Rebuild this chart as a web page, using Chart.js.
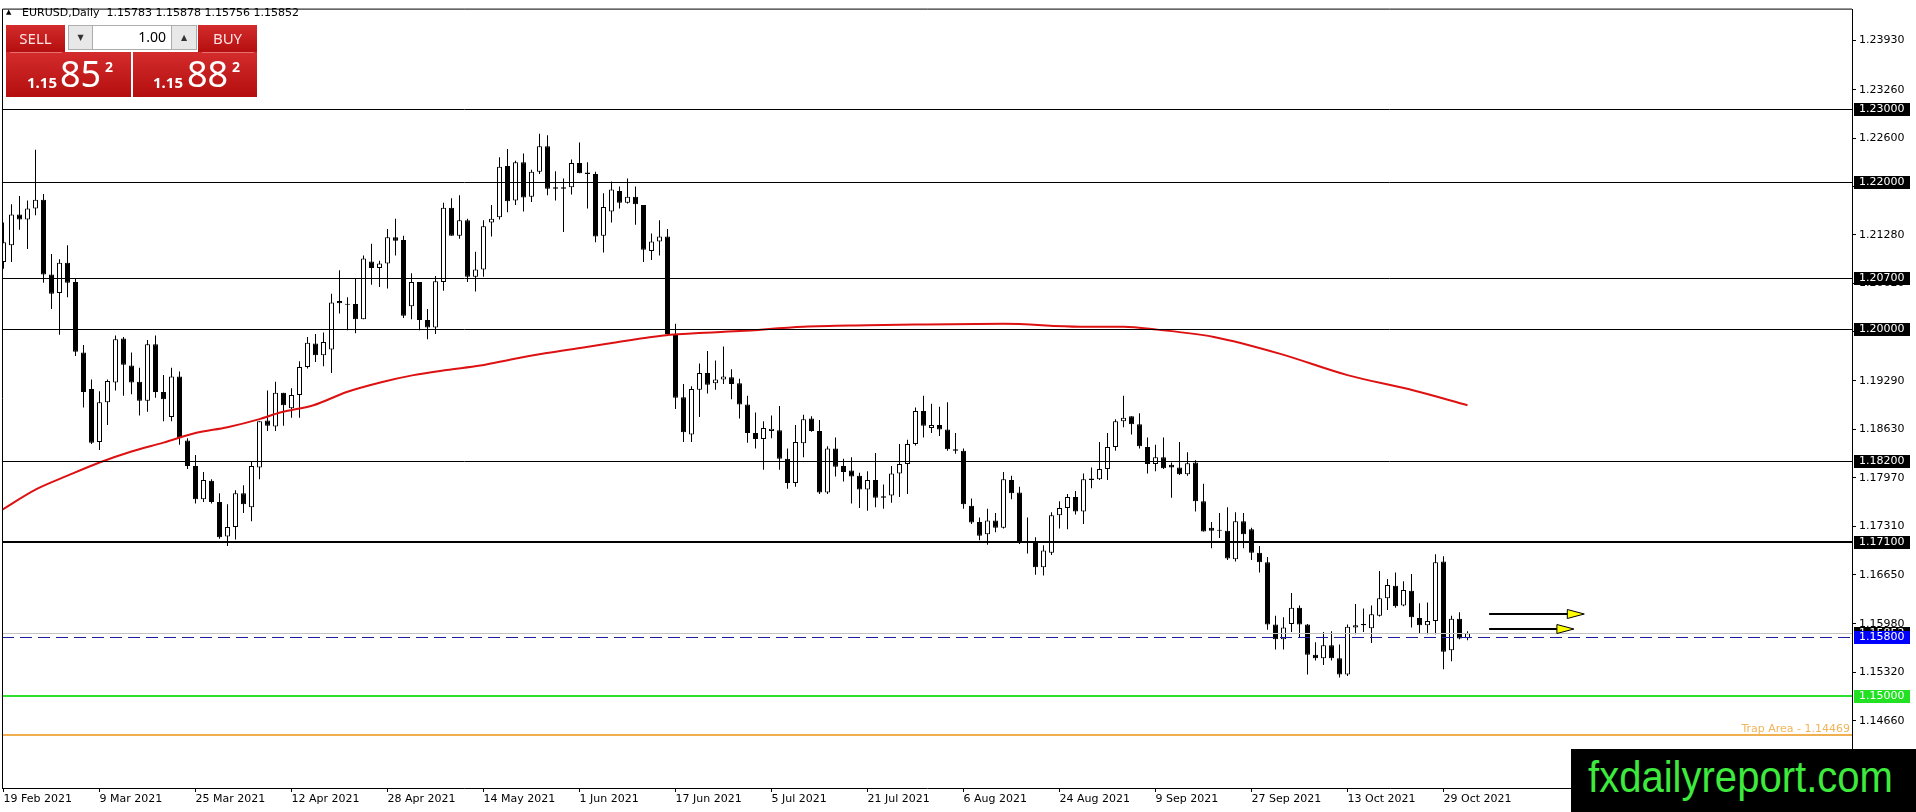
<!DOCTYPE html>
<html lang="en">
<head>
<meta charset="UTF-8">
<title>EURUSD, Daily</title>
<script src="https://cdn.jsdelivr.net/npm/chart.js"></script>
<style>
    body { margin: 0; background: #fff; overflow: hidden; }
    #wrap { position: relative; width: 1916px; height: 812px; }
    #c { position: absolute; left: 0; top: 0; }
    .ov { position: absolute; z-index: 2; }
    #hdr { left: 22px; top: 6px; font: 11px 'DejaVu Sans', sans-serif; color: #000; line-height: 14px; white-space: nowrap; }
    #tri { left: 6px; top: 8px; font: 7px 'DejaVu Sans', sans-serif; color: #000; }
    .red { background: linear-gradient(#d42c2c, #b40e0e); color: #fff; font-family: 'Noto Sans', sans-serif; }
    .btn { text-align: center; font-size: 15px; line-height: 27px; color: #fde2e2; }
    .gray { background: #e8e8e8; border: 1px solid #adadad; box-sizing: border-box; text-align: center; font: 8px 'DejaVu Sans'; line-height: 23px; color: #333; }
    #lot { background: #fff; border: 1px solid #adadad; box-sizing: border-box; text-align: right; padding-right: 5px;
           font: 14px 'Noto Sans', sans-serif; line-height: 22px; color: #000; }
    .pxs { position: absolute; line-height: 1; color: #fff; font-family: 'Noto Sans', sans-serif; }
    .small { font-size: 15px; font-weight: bold; }
    .big { font-size: 36px; }
    .sup { font-size: 14px; font-weight: bold; }
    #wm { left: 1571px; top: 749px; width: 345px; height: 63px; background: #000; overflow: hidden; }
    #wm span { position: absolute; left: 17px; top: 5px; font: 45px 'Liberation Sans', Arial, sans-serif; line-height: 1;
               color: #3dea3d; transform: scaleX(0.89); transform-origin: left top; white-space: nowrap; }
</style>
</head>
<body>
<div id="wrap">
    <canvas id="c" width="1916" height="812"></canvas>

    <div class="ov" id="tri">&#9650;</div>
    <div class="ov" id="hdr">EURUSD,Daily&nbsp; 1.15783 1.15878 1.15756 1.15852</div>

    <div class="ov red btn" style="left:6px;top:25px;width:59px;height:27px;">SELL</div>
    <div class="ov red" style="left:6px;top:52px;width:125px;height:45px;"></div>
    <div class="ov" style="left:10px;top:52px;width:52px;height:1px;background:#e47070;"></div>
    <div class="ov red btn" style="left:198px;top:25px;width:59px;height:27px;">BUY</div>
    <div class="ov red" style="left:133px;top:52px;width:124px;height:45px;"></div>
    <div class="ov" style="left:202px;top:52px;width:52px;height:1px;background:#e47070;"></div>
    <div class="ov gray" style="left:68px;top:25px;width:25px;height:25px;">&#9660;</div>
    <div class="ov" id="lot" style="left:92px;top:25px;width:80px;height:25px;">1.00</div>
    <div class="ov gray" style="left:171px;top:25px;width:26px;height:25px;">&#9650;</div>

    <div class="ov pxs small" style="left:27px;top:75px;">1.15</div>
    <div class="ov pxs big" style="left:60px;top:56px;">85</div>
    <div class="ov pxs sup" style="left:105px;top:60px;">2</div>
    <div class="ov pxs small" style="left:153px;top:75px;">1.15</div>
    <div class="ov pxs big" style="left:187px;top:56px;">88</div>
    <div class="ov pxs sup" style="left:232px;top:60px;">2</div>

    <div class="ov" id="wm"><span>fxdailyreport.com</span></div>
</div>

<script>
    // Date labels on the time axis and the bar index they belong to
    const dateLabels = ['19 Feb 2021', '9 Mar 2021', '25 Mar 2021', '12 Apr 2021', '28 Apr 2021', '14 May 2021',
        '1 Jun 2021', '17 Jun 2021', '5 Jul 2021', '21 Jul 2021', '6 Aug 2021', '24 Aug 2021',
        '9 Sep 2021', '27 Sep 2021', '13 Oct 2021', '29 Oct 2021'];
    const dateIdx = [0, 12, 24, 36, 48, 60, 72, 84, 96, 108, 120, 132, 144, 156, 168, 180];

    // Daily candles, one value per bar
    const opens = [
        1.2091,1.2114,1.2156,1.2149,1.2164,1.2176,1.2074,1.2049,1.2090,1.2064,
        1.1968,1.1918,1.1846,1.1900,1.1927,1.1987,1.1950,1.1928,1.1902,1.1979,
        1.1914,1.1880,1.1935,1.1848,1.1813,1.1768,1.1793,1.1764,1.1717,1.1730,
        1.1776,1.1757,1.1811,1.1875,1.1867,1.1913,1.1892,1.1910,1.1948,1.1980,
        1.1964,1.1972,1.2038,1.2034,1.2034,1.2013,1.2092,1.2083,1.2089,1.2125,
        1.2121,1.2031,1.2064,1.2012,1.2002,1.2064,1.2165,1.2127,1.2148,1.2071,
        1.2081,1.2145,1.2152,1.2222,1.2175,1.2227,1.2180,1.2214,1.2249,1.2191,
        1.2193,1.2193,1.2226,1.2213,1.2211,1.2127,1.2160,1.2188,1.2172,1.2180,
        1.2169,1.2106,1.2119,1.2126,1.1993,1.1907,1.1856,1.1917,1.1940,1.1926,
        1.1931,1.1934,1.1926,1.1897,1.1858,1.1850,1.1861,1.1862,1.1823,1.1790,
        1.1844,1.1878,1.1861,1.1777,1.1837,1.1813,1.1807,1.1800,1.1781,1.1794,
        1.1772,1.1773,1.1803,1.1816,1.1843,1.1888,1.1865,1.1869,1.1863,1.1836,
        1.1834,1.1759,1.1737,1.1720,1.1739,1.1729,1.1794,1.1777,1.1710,1.1711,
        1.1675,1.1695,1.1746,1.1756,1.1771,1.1751,1.1794,1.1795,1.1809,1.1839,
        1.1874,1.1881,1.1870,1.1839,1.1816,1.1825,1.1815,1.1811,1.1802,1.1818,
        1.1765,1.1729,1.1726,1.1725,1.1686,1.1738,1.1727,1.1695,1.1682,1.1597,
        1.1577,1.1598,1.1620,1.1597,1.1556,1.1551,1.1569,1.1551,1.1529,1.1593,
        1.1596,1.1592,1.1609,1.1633,1.1650,1.1623,1.1643,1.1606,1.1596,1.1602,
        1.1683,1.1562,1.1605,1.15783];
    const highs = [
        1.2145,1.2170,1.2181,1.2175,1.2244,1.2184,1.2102,1.2095,1.2114,1.2068,
        1.1978,1.1931,1.1915,1.1931,1.1991,1.1989,1.1968,1.1947,1.1985,1.1991,
        1.1937,1.1947,1.1942,1.1851,1.1828,1.1805,1.1795,1.1776,1.1761,1.1780,
        1.1787,1.1819,1.1874,1.1916,1.1928,1.1913,1.1919,1.1956,1.1989,1.1993,
        1.1995,1.2048,1.2080,1.2043,1.2069,1.2100,1.2116,1.2093,1.2136,1.2150,
        1.2127,1.2076,1.2064,1.2027,1.2072,1.2172,1.2178,1.2182,1.2150,1.2105,
        1.2148,1.2169,1.2234,1.2245,1.2229,1.2239,1.2217,1.2266,1.2264,1.2215,
        1.2205,1.2231,1.2254,1.2227,1.2214,1.2185,1.2201,1.2194,1.2205,1.2194,
        1.2169,1.2130,1.2148,1.2136,1.2007,1.1925,1.1922,1.1953,1.1970,1.1957,
        1.1976,1.1945,1.1932,1.1909,1.1886,1.1874,1.1882,1.1895,1.1837,1.1869,
        1.1883,1.1881,1.1876,1.1840,1.1852,1.1823,1.1825,1.1804,1.1806,1.1831,
        1.1788,1.1813,1.1843,1.1849,1.1893,1.1909,1.1898,1.1894,1.1900,1.1858,
        1.1837,1.1769,1.1743,1.1755,1.1749,1.1805,1.1800,1.1785,1.1743,1.1716,
        1.1705,1.1750,1.1765,1.1775,1.1779,1.1803,1.1811,1.1846,1.1858,1.1877,
        1.1909,1.1881,1.1885,1.1852,1.1842,1.1852,1.1818,1.1846,1.1832,1.1821,
        1.1789,1.1737,1.1749,1.1757,1.1750,1.1749,1.1729,1.1704,1.1689,1.1609,
        1.1607,1.1640,1.1623,1.1598,1.1573,1.1587,1.1588,1.1570,1.1597,1.1625,
        1.1619,1.1623,1.1670,1.1659,1.1668,1.1656,1.1666,1.1626,1.1627,1.1693,
        1.1690,1.1609,1.1614,1.15878];
    const lows = [
        1.2082,1.2091,1.2135,1.2109,1.2155,1.2063,1.2027,1.1992,1.2043,1.1963,
        1.1893,1.1843,1.1835,1.1869,1.1916,1.1909,1.1911,1.1882,1.1887,1.1906,
        1.1874,1.1874,1.1842,1.1809,1.1762,1.1764,1.1762,1.1714,1.1704,1.1713,
        1.1749,1.1738,1.1795,1.1861,1.1861,1.1868,1.1879,1.1879,1.1946,1.1955,
        1.1949,1.1940,1.2021,1.1998,1.1994,1.2013,1.2060,1.2057,1.2055,1.2100,
        1.2015,1.2013,1.1998,1.1986,1.1993,1.2052,1.2127,1.2123,1.2064,1.2051,
        1.2071,1.2126,1.2149,1.2159,1.2169,1.2160,1.2173,1.2211,1.2182,1.2175,
        1.2132,1.2183,1.2212,1.2164,1.2118,1.2104,1.2145,1.2164,1.2171,1.2142,
        1.2091,1.2094,1.2100,1.1993,1.1891,1.1846,1.1846,1.1880,1.1912,1.1917,
        1.1925,1.1904,1.1878,1.1845,1.1837,1.1808,1.1851,1.1808,1.1782,1.1785,
        1.1825,1.1860,1.1775,1.1775,1.1799,1.1792,1.1762,1.1756,1.1752,1.1757,
        1.1755,1.1763,1.1771,1.1775,1.1841,1.1852,1.1858,1.1854,1.1834,1.1830,
        1.1755,1.1734,1.1712,1.1706,1.1723,1.1728,1.1768,1.1707,1.1694,1.1665,
        1.1664,1.1692,1.1728,1.1727,1.1747,1.1734,1.1783,1.1794,1.1794,1.1834,
        1.1866,1.1856,1.1837,1.1803,1.1806,1.1809,1.1770,1.1801,1.1800,1.1751,
        1.1724,1.1701,1.1715,1.1685,1.1683,1.1701,1.1685,1.1668,1.1590,1.1563,
        1.1563,1.1587,1.1580,1.1529,1.1548,1.1542,1.1548,1.1525,1.1527,1.1584,
        1.1587,1.1572,1.1608,1.1617,1.1620,1.1622,1.1593,1.1585,1.1584,1.1584,
        1.1536,1.1547,1.1577,1.15756];
    const closes = [
        1.2118,1.2156,1.2149,1.2164,1.2176,1.2074,1.2048,1.2090,1.2063,1.1969,
        1.1914,1.1845,1.1900,1.1929,1.1986,1.1951,1.1927,1.1902,1.1979,1.1914,
        1.1904,1.1935,1.1851,1.1813,1.1768,1.1794,1.1764,1.1716,1.1730,1.1776,
        1.1761,1.1813,1.1874,1.1868,1.1913,1.1896,1.1910,1.1948,1.1981,1.1964,
        1.1982,1.2036,1.2035,1.2033,1.2013,1.2096,1.2083,1.2089,1.2125,1.2120,
        1.2018,1.2064,1.2012,1.2002,1.2065,1.2165,1.2127,1.2148,1.2071,1.2081,
        1.2140,1.2150,1.2221,1.2174,1.2227,1.2179,1.2214,1.2249,1.2191,1.2193,
        1.2191,1.2226,1.2212,1.2211,1.2126,1.2166,1.2190,1.2172,1.2180,1.2170,
        1.2108,1.2119,1.2126,1.1993,1.1906,1.1859,1.1918,1.1940,1.1924,1.1931,
        1.1935,1.1925,1.1897,1.1858,1.1850,1.1865,1.1864,1.1823,1.1790,1.1846,
        1.1877,1.1861,1.1777,1.1837,1.1812,1.1805,1.1799,1.1781,1.1794,1.1770,
        1.1770,1.1803,1.1816,1.1843,1.1888,1.1868,1.1869,1.1863,1.1836,1.1834,
        1.1761,1.1736,1.1718,1.1739,1.1729,1.1795,1.1776,1.1709,1.1709,1.1675,
        1.1698,1.1746,1.1756,1.1771,1.1751,1.1795,1.1796,1.1809,1.1839,1.1874,
        1.1879,1.1870,1.1840,1.1816,1.1825,1.1810,1.1811,1.1802,1.1817,1.1765,
        1.1724,1.1725,1.1725,1.1687,1.1738,1.1720,1.1695,1.1682,1.1597,1.1577,
        1.1593,1.1620,1.1597,1.1556,1.1551,1.1569,1.1551,1.1529,1.1594,1.1596,
        1.1598,1.1611,1.1633,1.1651,1.1622,1.1644,1.1607,1.1596,1.1602,1.1682,
        1.1560,1.1605,1.1578,1.15852];

    // Red moving average, read at these bar positions
    const maIdx = [-0.4, 4, 8, 12, 16, 20, 24, 28, 32, 34.6, 38.75, 42.9, 47.1, 51.25, 55.4, 59.6, 63.75,
        67.9, 72.1, 76.25, 80.4, 83.3, 92, 100, 108, 114, 125, 134.6, 140, 144.2, 151.3, 159.6, 168, 176.3, 183];
    const maVal = [1.1752, 1.1781, 1.1800, 1.1818, 1.1833, 1.1845, 1.1858, 1.1866, 1.1877, 1.1886, 1.1896,
        1.1914, 1.1927, 1.1937, 1.1944, 1.1950, 1.1959, 1.1967, 1.1974, 1.1981, 1.1988, 1.1992, 1.1997,
        1.2003, 1.2005, 1.2006, 1.2007, 1.2003, 1.2003, 1.1999, 1.1989, 1.1966, 1.1937, 1.1916, 1.1896];

    // Price scale labels
    const yTicks = [1.23930, 1.23260, 1.22600, 1.21940, 1.21280, 1.20620, 1.19960, 1.19290,
        1.18630, 1.17970, 1.17310, 1.16650, 1.15980, 1.15320, 1.14660];

    // Horizontal levels
    const blackLevels = [1.23000, 1.22000, 1.20700, 1.20000, 1.18200, 1.17100];
    const bidPrice = 1.15852;
    const markLevel = 1.15800;
    const supportLevel = 1.15000;
    const trapLevel = 1.14469;

    // Two arrows drawn on the right (bar positions and price)
    const arrowFrom = [185.7, 185.7];
    const arrowTo = [197.6, 196.3];
    const arrowAt = [1.16112, 1.15910];

    // styles
    const blackLevelWidth = [1, 1, 1, 1, 1, 2];
    const FONT = "11px 'DejaVu Sans'";

    const bodies = opens.map((o, i) => ({ x: i, y: [o, closes[i]] }));
    const wicks = lows.map((l, i) => ({ x: i, y: [l, highs[i]] }));
    const maPoints = maIdx.map((x, k) => ({ x: x, y: maVal[k] }));

    const overlay = {
        id: 'overlay',
        afterDatasetsDraw(chart) {
            const { ctx, chartArea: a, scales: { x, y } } = chart;
            const hline = (v, color, width, dash) => {
                const py = Math.round(y.getPixelForValue(v)) + (width % 2 ? 0.5 : 0);
                ctx.beginPath();
                ctx.setLineDash(dash || []);
                ctx.strokeStyle = color;
                ctx.lineWidth = width;
                ctx.moveTo(a.left, py);
                ctx.lineTo(a.right, py);
                ctx.stroke();
            };
            ctx.save();
            hline(bidPrice, '#c4c4c4', 1);
            blackLevels.forEach((v, k) => hline(v, '#000', blackLevelWidth[k]));
            hline(markLevel, '#1c1c9c', 1, [12, 6]);
            hline(supportLevel, '#2ee02e', 2);
            hline(trapLevel, '#f0b050', 2);
            ctx.setLineDash([]);

            ctx.fillStyle = '#f2b45a';
            ctx.font = FONT;
            ctx.textAlign = 'right';
            ctx.textBaseline = 'alphabetic';
            ctx.fillText('Trap Area - ' + trapLevel.toFixed(5), a.right - 2, y.getPixelForValue(trapLevel) - 3);

            // arrows
            arrowAt.forEach((v, k) => {
                const py = Math.round(y.getPixelForValue(v));
                const x0 = x.getPixelForValue(arrowFrom[k]);
                const tip = x.getPixelForValue(arrowTo[k]);
                ctx.beginPath();
                ctx.strokeStyle = '#000';
                ctx.lineWidth = 2;
                ctx.moveTo(x0, py);
                ctx.lineTo(tip - 16, py);
                ctx.stroke();
                ctx.beginPath();
                ctx.moveTo(tip - 17, py - 4.5);
                ctx.lineTo(tip, py);
                ctx.lineTo(tip - 17, py + 4.5);
                ctx.closePath();
                ctx.fillStyle = '#ffff00';
                ctx.fill();
                ctx.lineWidth = 1;
                ctx.stroke();
            });
            ctx.restore();
        },
        afterDraw(chart) {
            const { ctx, chartArea: a, scales: { y } } = chart;
            ctx.save();
            // frame top and left
            ctx.strokeStyle = '#000';
            ctx.lineWidth = 1;
            ctx.beginPath();
            ctx.moveTo(a.left + 0.5, a.bottom);
            ctx.lineTo(a.left + 0.5, a.top - 0.5);
            ctx.lineTo(a.right, a.top - 0.5);
            ctx.stroke();

            const tag = (v, bg) => {
                const py = y.getPixelForValue(v);
                ctx.fillStyle = bg;
                ctx.fillRect(a.right + 2, Math.round(py) - 6, 56, 13);
                ctx.fillStyle = '#fff';
                ctx.font = FONT;
                ctx.textAlign = 'left';
                ctx.textBaseline = 'middle';
                ctx.fillText(v.toFixed(5), a.right + 7, Math.round(py) + 0.5);
            };
            blackLevels.forEach(v => tag(v, '#000'));
            tag(bidPrice, '#000');
            tag(markLevel, '#0000ff');
            tag(supportLevel, '#22e022');
            ctx.restore();
        }
    };

    Chart.defaults.font.family = 'DejaVu Sans';
    Chart.defaults.font.size = 11;
    Chart.defaults.color = '#000';

    new Chart(document.getElementById('c').getContext('2d'), {
        type: 'bar',
        data: {
            datasets: [
                {
                    type: 'line',
                    label: 'MA',
                    data: maPoints,
                    borderColor: '#dd1111',
                    borderWidth: 2,
                    pointRadius: 0,
                    cubicInterpolationMode: 'monotone',
                    order: 0
                },
                {
                    label: 'body',
                    data: bodies,
                    barThickness: 5,
                    backgroundColor: c => closes[c.dataIndex] >= opens[c.dataIndex] ? '#ffffff' : '#000000',
                    borderColor: '#000',
                    borderWidth: 1,
                    borderSkipped: false,
                    minBarLength: 1,
                    inflateAmount: 0,
                    grouped: false,
                    order: 1
                },
                {
                    label: 'wick',
                    data: wicks,
                    barThickness: 1,
                    backgroundColor: '#000',
                    borderWidth: 0,
                    inflateAmount: 0,
                    grouped: false,
                    order: 2
                }
            ]
        },
        options: {
            responsive: false,
            animation: false,
            events: [],
            layout: { padding: { left: 2, top: 3, right: 0, bottom: 0 } },
            plugins: { legend: { display: false }, tooltip: { enabled: false } },
            scales: {
                x: {
                    type: 'linear',
                    offset: false,
                    min: -0.1875,
                    max: 231.0625,
                    afterBuildTicks: s => { s.ticks = dateIdx.map(v => ({ value: v })); },
                    afterFit: s => { s.height = 24; },
                    grid: { drawOnChartArea: false, offset: false, color: '#000', tickLength: 4 },
                    border: { color: '#000', width: 1 },
                    ticks: {
                        align: 'start',
                        padding: 1,
                        maxRotation: 0,
                        autoSkip: false,
                        callback: v => { const k = dateIdx.indexOf(v); return k >= 0 ? dateLabels[k] : ''; }
                    }
                },
                y: {
                    position: 'right',
                    min: 1.137433,
                    max: 1.243514,
                    afterBuildTicks: s => { s.ticks = yTicks.map(v => ({ value: v })); },
                    afterFit: s => { s.width = 64; },
                    grid: { drawOnChartArea: false, color: '#000', tickLength: 4 },
                    border: { color: '#000', width: 1 },
                    ticks: { autoSkip: false, padding: 3, callback: v => Number(v).toFixed(5) }
                }
            }
        },
        plugins: [overlay]
    });
</script>
</body>
</html>
